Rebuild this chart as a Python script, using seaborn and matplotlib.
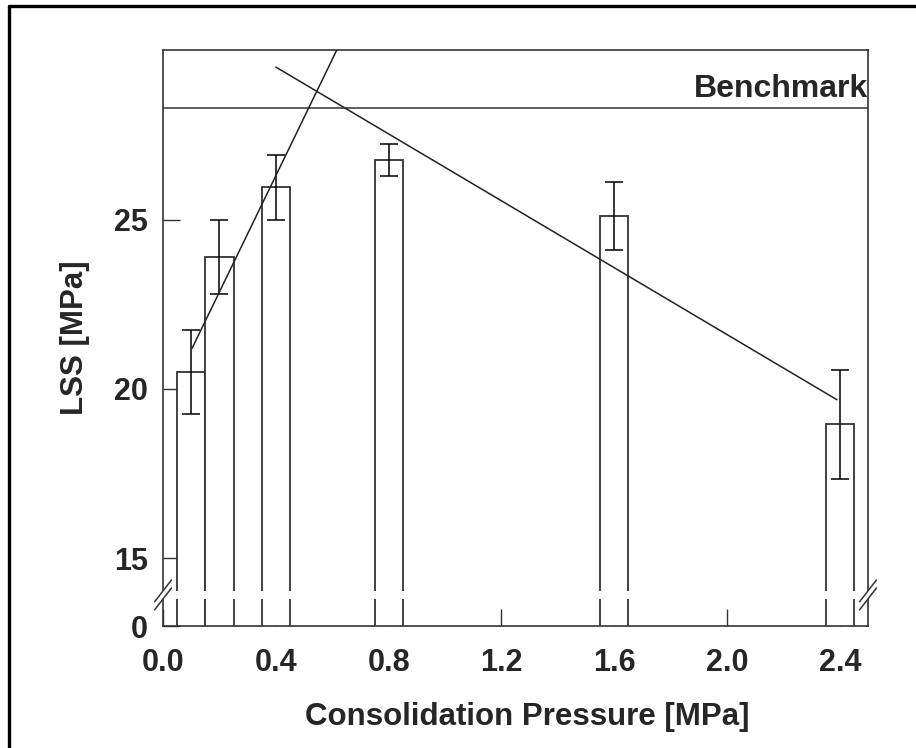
import matplotlib
matplotlib.use("Agg")
import matplotlib.pyplot as plt
import seaborn as sns
import numpy as np
import pandas as pd
from matplotlib.lines import Line2D

# data
pressure = [0.1, 0.2, 0.4, 0.8, 1.6, 2.4]
lss_mean = [20.5, 23.9, 25.95, 26.75, 25.1, 18.95]
lss_err = [1.25, 1.1, 0.95, 0.47, 1.0, 1.62]

rise_x = [0.103, 0.616]
rise_y = [21.2, 30.0]
fall_x = [0.40, 2.39]
fall_y = [29.5, 19.68]

benchmark = 28.3
xticks = [0.0, 0.4, 0.8, 1.2, 1.6, 2.0, 2.4]
yticks = [13, 15, 20, 25]
ytick_labels = ["0", "15", "20", "25"]

df = pd.DataFrame({"pressure": pressure, "lss": lss_mean})

sns.set_style("ticks")
plt.rcParams["font.family"] = ["Liberation Sans", "DejaVu Sans"]
plt.rcParams["font.weight"] = "bold"

fig = plt.figure(figsize=(9.16, 7.48), dpi=100)
ax = fig.add_axes([0.178, 0.163, 0.7696, 0.770])

line_c = "#333333"
sns.barplot(data=df, x="pressure", y="lss", native_scale=True, width=1.0,
            errorbar=None, color="white", edgecolor=line_c, linewidth=1.3,
            ax=ax, zorder=2)
ax.errorbar(pressure, lss_mean, yerr=lss_err, fmt="none", ecolor="black",
            elinewidth=1.1, capsize=6.5, capthick=1.1, zorder=3)

ax.plot(rise_x, rise_y, color="#222222", lw=1.1, zorder=4)
ax.plot(fall_x, fall_y, color="#222222", lw=1.1, zorder=4)

ax.axhline(benchmark, color=line_c, lw=1.1, zorder=1)
ax.text(2.5, benchmark + 0.12, "Benchmark", ha="right", va="bottom",
        fontsize=23, fontweight="bold")

ax.set_xlim(0, 2.5)
ax.set_ylim(13, 30)
ax.set_xticks(xticks)
ax.set_xticklabels([f"{t:.1f}" for t in xticks])
ax.set_yticks(yticks)
ax.set_yticklabels(ytick_labels)
ax.tick_params(axis="both", direction="in", length=12, width=1, color=line_c,
               labelsize=22)
ax.tick_params(axis="x", pad=16)
ax.tick_params(axis="y", pad=11)
for s in ax.spines.values():
    s.set_color(line_c)
    s.set_linewidth(1.2)

ax.set_xlabel("Consolidation Pressure [MPa]", fontsize=22.5, fontweight="bold",
              labelpad=17)
ax.xaxis.label.set_x(0.517)
ax.set_ylabel("LSS [MPa]", fontsize=22.5, fontweight="bold", labelpad=17)

# axis break: white gap across bars and side spines, then // marks
ax.axhspan(13.79, 14.05, xmin=-0.01, xmax=1.01, color="white", zorder=5,
           clip_on=False, lw=0)
y0 = (13.92 - 13) / 17
for xa in (0.0, 1.0):
    for dy in (-0.007, 0.007):
        ax.plot([xa - 0.012, xa + 0.012], [y0 + dy - 0.019, y0 + dy + 0.019],
                transform=ax.transAxes, color=line_c, lw=1.1, clip_on=False,
                zorder=6)

# outer frame of the original figure (top and left edges only visible)
fig.add_artist(Line2D([9 / 916, 9 / 916], [0, 1 - 6 / 748], color="black",
                      lw=2.4, transform=fig.transFigure))
fig.add_artist(Line2D([9 / 916, 1], [1 - 6 / 748, 1 - 6 / 748], color="black",
                      lw=2.4, transform=fig.transFigure))

fig.savefig("out.png", dpi=100, facecolor="white")
